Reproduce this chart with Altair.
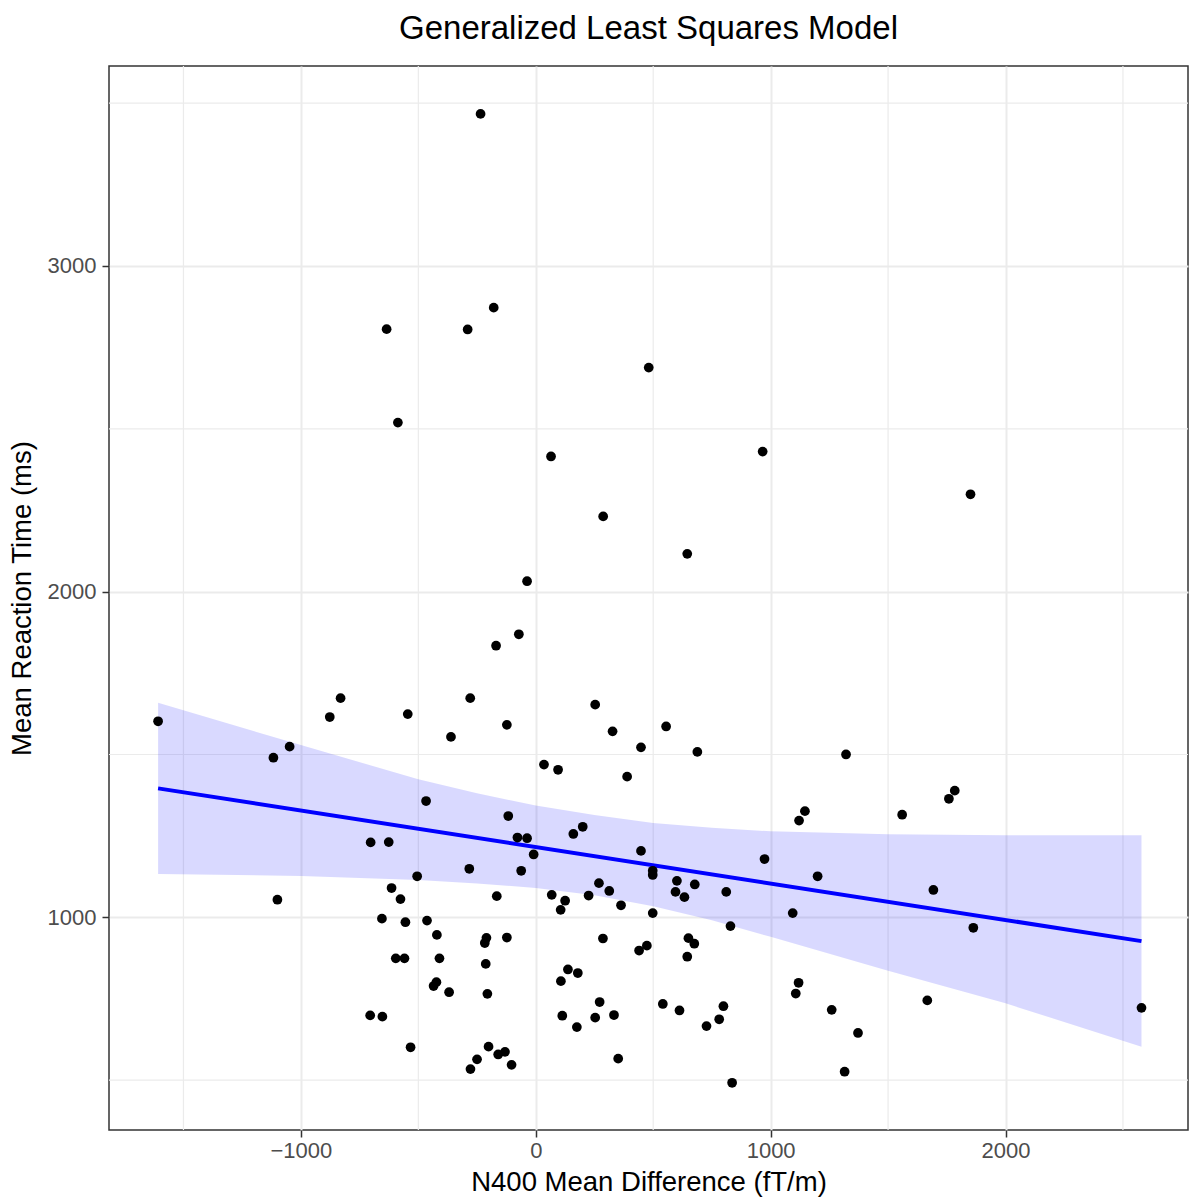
import altair as alt
import pandas as pd

# ---- data ----
x_vals = [-235, -179, -635, -290, -587, 65, 287, -37, 481, 966, 645, 1851,
          -72, -169, -279, -831, -877, -1608, -545, -361, -123, 253, 327, 448,
          -1048, -1117, 35, 95, 389, -467, -117, 200, 160, -78, -37, -9,
          -703, -626, 448, -283, -62, -505, 269, 313, 68, 225, -166, 125,
          363, 106, -614, -576, -1100, -655, -555, -463, -421, -210, -217, -123,
          286, 440, -596, -559, -410, -213, 137, 179, 107, -423, -435, -369,
          -206, 272, -705, -653, 113, 253, 333, 175, -533, -201, -131, -160,
          -250, -278, -103, 351, 555, 688, 1321, 1146, 1121, 1560, 1784, 1759,
          974, 498, 498, 601, 677, 595, 633, 811, 1200, 1693, 498, 1094,
          829, 1863, 650, 675, 645, 473, 1119, 1107, 1667, 2579, 541, 612,
          799, 781, 727, 1260, 1372, 1315, 836]
y_vals = [3467, 2872, 2806, 2805, 2519, 2415, 2231, 2032, 2688, 2430, 2116, 2299,
          1869, 1834, 1673, 1673, 1615, 1602, 1624, 1554, 1591, 1653, 1571, 1522,
          1524, 1490, 1469, 1453, 1432, 1357, 1311, 1278, 1256, 1245, 1243, 1193,
          1230, 1231, 1204, 1149, 1143, 1126, 1105, 1081, 1069, 1067, 1065, 1051,
          1037, 1023, 1090, 1056, 1054, 996, 985, 990, 946, 937, 921, 938,
          935, 898, 874, 874, 874, 857, 840, 829, 804, 801, 789, 770,
          765, 740, 699, 695, 698, 692, 700, 663, 601, 603, 587, 579,
          564, 534, 547, 566, 1586, 1508, 1500, 1326, 1297, 1315, 1389, 1364,
          1179, 1143, 1130, 1112, 1101, 1078, 1062, 1078, 1126, 1084, 1013, 1013,
          973, 968, 936, 919, 879, 913, 799, 766, 745, 722, 734, 714,
          727, 687, 666, 716, 645, 526, 492]

fit_x = [-1608, 2579]
fit_y = [1396, 927]

band_x = [-1608, -1000, -500, -250, 0, 250, 500, 750, 1000, 1500, 2000, 2579]
band_lo = [1133, 1127, 1115, 1104, 1090, 1068, 1034, 991, 940, 836, 736, 603]
band_hi = [1659, 1529, 1424, 1381, 1343, 1314, 1290, 1275, 1264, 1255, 1252, 1252]

x_major = [-1000, 0, 1000, 2000]
x_minor = [-1500, -500, 500, 1500, 2500]
y_major = [1000, 2000, 3000]
y_minor = [500, 1500, 2500, 3500]

X_DOMAIN = [-1817, 2777]
Y_DOMAIN = [347, 3614]

FONT = "Liberation Sans"

pts = pd.DataFrame({"x": x_vals, "y": y_vals})
fit = pd.DataFrame({"x": fit_x, "y": fit_y})
band = pd.DataFrame({"x": band_x, "lo": band_lo, "hi": band_hi})
vminor = pd.DataFrame({"v": x_minor})
hminor = pd.DataFrame({"v": y_minor})

xscale = alt.Scale(domain=X_DOMAIN, nice=False, zero=False)
yscale = alt.Scale(domain=Y_DOMAIN, nice=False, zero=False)

common = dict(grid=True, domain=False, tickSize=7, tickColor="#333333",
              tickWidth=1.5, gridColor="#EBEBEB", gridWidth=2, format="d",
              labelFont=FONT, labelFontSize=22, labelColor="#4D4D4D",
              titleFont=FONT, titleFontSize=27.5, titleColor="black",
              titleFontWeight="normal")

xaxis = alt.Axis(values=x_major, title="N400 Mean Difference (fT/m)",
                 labelPadding=3, titlePadding=7, **common)
yaxis = alt.Axis(values=y_major, title="Mean Reaction Time (ms)",
                 labelPadding=6, titlePadding=11, **common)

vgrid = alt.Chart(vminor).mark_rule(color="#EBEBEB", strokeWidth=1.2).encode(
    x=alt.X("v:Q", scale=xscale, axis=xaxis))
hgrid = alt.Chart(hminor).mark_rule(color="#EBEBEB", strokeWidth=1.2).encode(
    y=alt.Y("v:Q", scale=yscale, axis=yaxis))

ribbon = alt.Chart(band).mark_area(color="blue", opacity=0.15).encode(
    x=alt.X("x:Q", scale=xscale),
    y=alt.Y("lo:Q", scale=yscale),
    y2="hi:Q")

line = alt.Chart(fit).mark_line(color="#0000FF", strokeWidth=4).encode(
    x=alt.X("x:Q", scale=xscale),
    y=alt.Y("y:Q", scale=yscale))

points = alt.Chart(pts).mark_circle(color="black", size=95, opacity=1).encode(
    x=alt.X("x:Q", scale=xscale),
    y=alt.Y("y:Q", scale=yscale))

chart = alt.layer(vgrid, hgrid, ribbon, line, points).properties(
    width=1079, height=1064,
    background="white",
    autosize=alt.AutoSizeParams(type="none"),
    padding={"left": 109, "top": 66, "right": 1, "bottom": 68},
    title=alt.TitleParams("Generalized Least Squares Model", anchor="middle",
                          fontSize=33, font=FONT, fontWeight="normal",
                          color="black", offset=19),
).configure_view(
    stroke="#333333", strokeWidth=1.5
)

chart.save("out.html", embed_options={"renderer": "svg", "actions": False})
